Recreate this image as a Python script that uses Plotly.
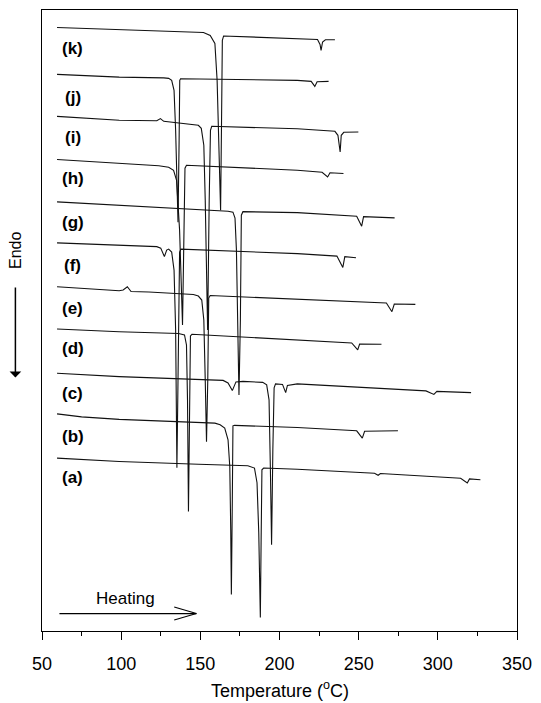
import plotly.graph_objects as go

# ---- DSC heating curves (temperature in degC, heat flow in arbitrary units, endo down) ----
k_temp = [59.5, 99, 130, 152, 156.25, 159.2, 160.6, 161.9, 162.8, 163.4, 163.9, 164.7, 211, 224, 225.6, 226.25, 227.2, 229, 235]
k_heat = [604.5, 602.2, 601, 599.5, 596.5, 588.5, 551.5, 481.5, 421.5, 511.5, 591.5, 596, 593.5, 592.5, 587.5, 581.5, 590, 592.2, 592.2]

j_temp = [59.5, 98.75, 126.9, 130, 131.9, 133.4, 134.4, 135.9, 136.6, 137, 137.5, 211.25, 220, 222.3, 223.75, 231]
j_heat = [557.5, 554.8, 554, 553.5, 551.5, 541.5, 501.5, 409.5, 491.5, 551.5, 553.2, 551.5, 550.5, 545.5, 550.2, 550.5]

i_temp = [59.5, 98.75, 122.5, 124.8, 126.9, 145.6, 148.75, 150.6, 152.2, 153.1, 154.6, 155.6, 156.4, 157.2, 211.25, 235, 236.9, 238.3, 239, 240.6, 249.8]
i_heat = [515.5, 511.5, 511, 513.2, 510.5, 507.5, 506.5, 503.5, 486.5, 431.5, 301.5, 431.5, 501.5, 505.5, 503, 500.5, 496.5, 479.8, 496.5, 499.5, 499.8]

h_temp = [59.5, 98.75, 123.75, 130, 133.1, 135, 136.9, 138.75, 139.7, 140.3, 141.25, 211.25, 226.9, 230.4, 231.9, 240.4]
h_heat = [472.2, 468.5, 466, 464.5, 461.5, 451.5, 401.5, 306.5, 381.5, 463.5, 466.5, 461.5, 459.5, 454.8, 459, 458.2]

g_temp = [59.5, 98.75, 148.75, 167.5, 170.6, 171.9, 172.8, 174.4, 175.3, 175.9, 176.9, 211.25, 248.75, 251.9, 253.1, 272.7]
g_heat = [429.8, 426.5, 422.5, 420.5, 419.5, 413.5, 381.5, 236.5, 311.5, 416.5, 420, 419, 415.5, 405.5, 415, 413.8]

f_temp = [59.5, 98.75, 122.5, 125, 127.3, 128.75, 130, 131.9, 133.4, 134.4, 135.2, 135.9, 136.9, 137.8, 211.25, 236.25, 240, 241.25, 248.3]
f_heat = [388.8, 386.5, 385, 383.5, 375, 381.5, 382.5, 379.5, 361.5, 301.5, 163.5, 251.5, 379.5, 382.5, 378, 375.5, 364.2, 375, 373.8]

e_temp = [59.5, 86.25, 98.75, 101.25, 103.9, 106.25, 117.5, 145.6, 148.75, 150.9, 152.2, 153.1, 153.9, 154.7, 155.3, 156.25, 211.25, 267.5, 271, 272.5, 285.8]
e_heat = [344.8, 342, 340.8, 341.5, 344.8, 340, 339.5, 337, 335.5, 331.5, 311.5, 251.5, 189.5, 251.5, 333.5, 336, 332.5, 328.5, 319.8, 327.5, 327.2]

d_temp = [59.5, 98.75, 136.25, 140, 141.25, 141.9, 142.5, 143.1, 143.75, 144.7, 211.25, 245.6, 249.4, 250.6, 264.4]
d_heat = [302.5, 299.8, 298, 296.5, 286.5, 231.5, 119.8, 211.5, 295.5, 297.2, 291.5, 288.5, 281.5, 287.5, 287.2]

c_temp = [59.5, 98.75, 164.4, 167.5, 170.2, 172.5, 176.9, 189.4, 191.9, 193.4, 194.25, 195, 195.8, 196.6, 197.5, 201.9, 203.9, 205, 211.25, 292.5, 297.5, 299.4, 321]
c_heat = [258.2, 254.8, 251, 248.5, 240.8, 249.5, 250, 249, 246.5, 231.5, 161.5, 86.5, 181.5, 243.5, 247.5, 247, 238.8, 246, 247.5, 240.5, 237, 240, 238.8]

b_temp = [59.5, 75, 98.75, 148.75, 159.2, 162.5, 165.4, 167.5, 168.6, 169.2, 169.6, 170.2, 170.6, 171.6, 211.25, 248.75, 252.3, 253.75, 274.8]
b_heat = [217.5, 214.5, 212, 208.5, 208.2, 206.5, 203.2, 191.5, 164.8, 101.5, 36.5, 131.5, 205.5, 206, 203.8, 200.5, 193.2, 200, 200.5]

a_temp = [59.5, 98.75, 148.75, 180, 184.2, 185.8, 186.9, 187.9, 188.4, 188.9, 190, 211.25, 260, 262.3, 263.75, 314.4, 318.6, 320, 326.9]
a_heat = [173.2, 169.8, 167, 165.5, 163.2, 148.5, 98.5, 13.5, 91.5, 161.5, 163.2, 162, 158, 156, 157.8, 153, 148.2, 152.3, 151.5]

curve_names = ["(a)", "(b)", "(c)", "(d)", "(e)", "(f)", "(g)", "(h)", "(i)", "(j)", "(k)"]
x_ticks = [50, 100, 150, 200, 250, 300, 350]
x_minor_ticks = [75, 125, 175, 225, 275, 325]

# label positions (layout only)
label_y = [154, 194.8, 238.2, 283.2, 323.2, 366.5, 409, 453.2, 494.8, 534.8, 583.2]

curves = [(a_temp, a_heat), (b_temp, b_heat), (c_temp, c_heat), (d_temp, d_heat),
          (e_temp, e_heat), (f_temp, f_heat), (g_temp, g_heat), (h_temp, h_heat),
          (i_temp, i_heat), (j_temp, j_heat), (k_temp, k_heat)]

FONT = "Arial, Liberation Sans, Helvetica, sans-serif"

fig = go.Figure()
for name, (t, h) in zip(curve_names, curves):
    fig.add_trace(go.Scatter(x=t, y=h, mode="lines", name=name,
                             line=dict(color="#111111", width=1.1),
                             showlegend=False, hoverinfo="skip"))

annotations = []
for name, ly in zip(curve_names, label_y):
    annotations.append(dict(x=69.5, y=ly, xref="x", yref="y", text="<b>%s</b>" % name,
                            showarrow=False, xanchor="center", yanchor="middle",
                            font=dict(family=FONT, size=17, color="black")))

# axis title
annotations.append(dict(x=0.5, y=-0.094, xref="paper", yref="paper",
                        text="Temperature (<sup>o</sup>C)", showarrow=False,
                        xanchor="center", yanchor="middle",
                        font=dict(family=FONT, size=18, color="black")))
# Endo label and arrow
annotations.append(dict(x=-0.056, y=381, xref="paper", yref="y", text="Endo",
                        textangle=-90, showarrow=False, xanchor="center", yanchor="middle",
                        font=dict(family=FONT, size=16, color="black")))
annotations.append(dict(x=-0.056, y=254, xref="paper", yref="y", text=" ",
                        showarrow=True, ax=0, ay=-97, arrowhead=1, arrowsize=1.3,
                        arrowwidth=1.5, arrowcolor="black",
                        font=dict(family=FONT, size=10, color="black")))
# Heating label
annotations.append(dict(x=103, y=33, xref="x", yref="y", text="Heating",
                        showarrow=False, xanchor="center", yanchor="middle",
                        font=dict(family=FONT, size=17, color="black")))

shapes = [
    dict(type="line", xref="x", yref="y", x0=61, y0=17.5, x1=147.5, y1=17.5,
         line=dict(color="black", width=1.2)),
    dict(type="line", xref="x", yref="y", x0=133.5, y0=24, x1=147.5, y1=17.5,
         line=dict(color="black", width=1.2)),
    dict(type="line", xref="x", yref="y", x0=133.5, y0=11, x1=147.5, y1=17.5,
         line=dict(color="black", width=1.2)),
]

fig.update_layout(
    width=541, height=703, autosize=False,
    margin=dict(l=42, r=19, t=9, b=72),
    paper_bgcolor="white", plot_bgcolor="white",
    font=dict(family=FONT, color="black"),
    annotations=annotations, shapes=shapes,
    xaxis=dict(range=[50, 350], showline=True, linecolor="black", linewidth=1.4,
               mirror=True, ticks="outside", ticklen=8, tickwidth=1.3, tickcolor="black",
               tickvals=x_ticks, ticktext=[str(v) for v in x_ticks],
               tickfont=dict(family=FONT, size=18, color="black"),
               ticklabelstandoff=8,
               minor=dict(tickvals=x_minor_ticks, ticks="outside", ticklen=4,
                          tickwidth=1.3, tickcolor="black", showgrid=False),
               showgrid=False, zeroline=False),
    yaxis=dict(range=[0, 622], showline=True, linecolor="black", linewidth=1.4,
               mirror=True, ticks="", showticklabels=False,
               showgrid=False, zeroline=False),
)

fig.write_html("out.html")
